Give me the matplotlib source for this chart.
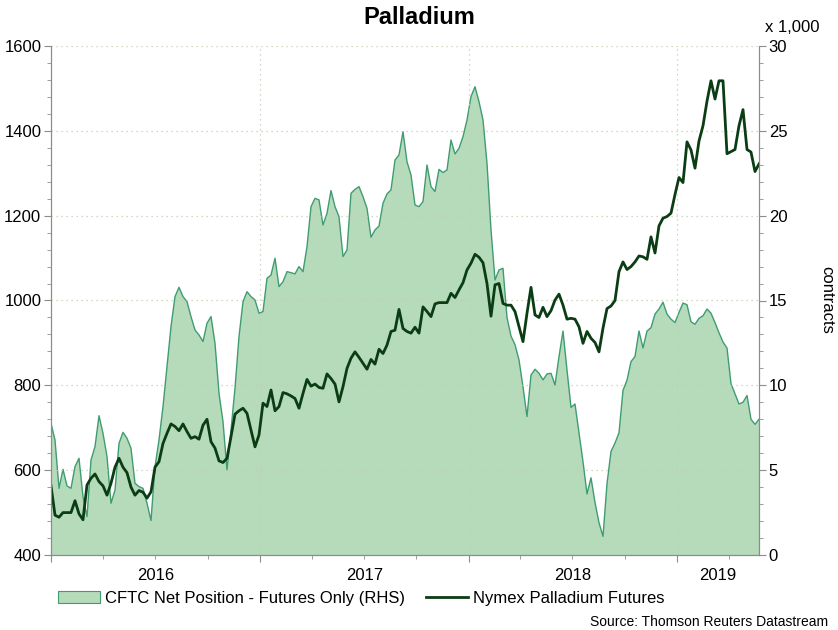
import matplotlib
matplotlib.use("Agg")
import matplotlib.pyplot as plt
import matplotlib.dates as mdates
from matplotlib.patches import Patch
from matplotlib.lines import Line2D
from matplotlib.ticker import MultipleLocator
import pandas as pd

plt.rcParams["font.family"] = ["Liberation Sans", "DejaVu Sans"]

# weekly, starting first Friday of 2016
start_date = "2016-01-01"

# CFTC net position, futures only (thousands of contracts, RHS)
cftc_net = [
    7.76, 6.78, 3.93, 5.05, 4.07, 3.93, 5.21, 5.7, 3.44, 2.26, 5.6, 6.39, 8.21, 7.17, 5.8, 3.05,
    3.83, 6.58, 7.23, 6.88, 6.29, 4.23, 4.03, 3.93, 3.05, 2.03, 5.21, 6.78, 8.75, 11.1, 13.46, 15.23,
    15.78, 15.23, 14.93, 14.05, 13.26, 12.97, 12.58, 13.66, 14.05, 12.48, 9.53, 7.86, 5.01, 7.37, 9.83,
    12.87, 14.93, 15.52, 15.23, 15.03, 14.25, 14.35, 16.31, 16.5, 17.49, 15.82, 16.11, 16.7, 16.64, 16.57,
    17.0, 16.7, 18.17, 20.53, 21.02, 20.93, 19.45, 20.14, 21.48, 20.53, 19.94, 17.59, 17.98, 21.32, 21.55,
    21.71, 21.12, 20.43, 18.73, 19.16, 19.39, 20.73, 21.28, 21.52, 23.28, 23.58, 24.95, 23.18, 22.4, 20.63,
    20.53,
    20.83, 22.99, 21.71, 21.42, 22.73, 22.54, 22.7, 24.46, 23.64, 23.97, 24.66, 25.64, 27.02, 27.6, 26.72,
    25.64, 23.09, 19.16, 16.21, 16.8, 16.9, 14.0, 12.9, 12.4, 11.5, 9.9, 8.16, 10.61, 10.95, 10.71, 10.32,
    10.67, 10.71, 10.02, 11.69, 13.2, 10.9, 8.7, 8.9, 7.2, 5.5, 3.6, 4.55, 3.1, 1.9, 1.1,
    4.2, 6.1, 6.6, 7.2, 9.7, 10.3, 11.4, 11.7, 13.2, 12.2, 13.2, 13.4, 14.2, 14.5, 14.9, 14.2, 13.9,
    13.7, 14.3, 14.85, 14.75, 13.75, 13.6, 13.95, 14.1, 14.5, 14.25, 13.7, 13.1, 12.55, 12.2, 10.1, 9.5,
    8.9, 9.0, 9.4, 8.0, 7.7, 8.0,
]

# Nymex palladium futures price (LHS)
palladium = [
    563, 494, 489, 500, 500, 500, 528, 497, 483, 565, 581, 591, 573, 563, 541, 569, 607, 628, 607, 594,
    560, 541, 552, 548, 534, 549, 607, 620, 663, 687, 709, 703, 693, 709, 691, 675, 679, 673, 706, 720,
    667, 652, 622, 618, 628, 679, 732,
    740, 746, 734, 695, 655, 683, 758, 750, 789, 740, 750, 783, 780, 775, 769, 746, 781, 814, 798, 803,
    795, 793, 827, 816, 803, 761, 797, 840, 864, 879, 866, 852, 838, 861, 850, 885, 875, 895, 927, 930,
    979, 934, 927, 923, 937, 923,
    985, 974, 962, 992, 995, 995, 995, 1017, 1007, 1025, 1042, 1072, 1088, 1109, 1102, 1089, 1040, 963,
    1037, 1040, 993, 989, 989, 974, 938, 903, 970, 1031, 966, 960, 984, 962, 976, 1001, 1015, 989, 956,
    958, 956, 938, 899, 927, 911, 901, 879, 935,
    981, 987, 1000, 1068, 1091, 1073, 1080, 1091, 1105, 1103, 1097, 1150, 1112, 1176, 1194, 1198, 1206,
    1250, 1290, 1278, 1374, 1355, 1312, 1376, 1412, 1470, 1518, 1475, 1518, 1518, 1346, 1351, 1356, 1412,
    1450, 1356, 1350, 1304, 1322,
]

years = [2016, 2017, 2018, 2019]

dates = pd.date_range(start_date, periods=len(palladium), freq="7D")

fill_color = "#b6dbba"
edge_color = "#3f9c72"
line_color = "#0b3d14"
axis_gray = "#8c8c8c"
grid_color = "#c2cfae"

fig = plt.figure(figsize=(8.38, 6.3), dpi=100)
ax = fig.add_axes([51 / 838, 1 - 555 / 630, (759 - 51) / 838, (555 - 46) / 630])
ax2 = ax.twinx()

ax2.fill_between(dates, 0, cftc_net, facecolor=fill_color, edgecolor="none", linewidth=0)
ax2.plot(dates, cftc_net, color=edge_color, linewidth=1.0)
ax.plot(dates, palladium, color=line_color, linewidth=2.0)

ax.set_zorder(ax2.get_zorder() + 1)
ax.patch.set_visible(False)

ax.set_xlim(dates[0], dates[-1])
ax.set_ylim(400, 1600)
ax2.set_ylim(0, 30)

ax.yaxis.set_major_locator(MultipleLocator(200))
ax.yaxis.set_minor_locator(MultipleLocator(40))
ax2.yaxis.set_major_locator(MultipleLocator(5))
ax2.yaxis.set_minor_locator(MultipleLocator(1))

ax.xaxis.set_major_locator(mdates.YearLocator())
ax.xaxis.set_minor_locator(mdates.MonthLocator(bymonth=[4, 7, 10]))
ax.xaxis.set_major_formatter(plt.NullFormatter())

for a in (ax, ax2):
    a.tick_params(which="major", length=5, color=axis_gray, labelsize=12, pad=2)
    a.tick_params(which="minor", length=3, color=axis_gray)
    for s in a.spines.values():
        s.set_color(axis_gray)
    a.spines["top"].set_visible(False)

ax.grid(True, which="major", axis="both", linestyle=(0, (1, 3)), color=grid_color, linewidth=0.9)

# year labels centred in the visible part of each year
x0, x1 = ax.get_xlim()
for yr in years:
    a = max(mdates.date2num(pd.Timestamp(f"{yr}-01-01")), x0)
    b = min(mdates.date2num(pd.Timestamp(f"{yr + 1}-01-01")), x1)
    ax.text((a + b) / 2, -0.04, str(yr), transform=ax.get_xaxis_transform(),
            ha="center", va="center", fontsize=12)

fig.text(0.5, 1 - 17 / 630, "Palladium", ha="center", va="center", fontsize=17, fontweight="bold")
fig.text(765 / 838, 1 - 27 / 630, "x 1,000", ha="left", va="center", fontsize=12)
fig.text(827 / 838, 1 - 300 / 630, "contracts", ha="center", va="center", rotation=270, fontsize=12)
fig.text(828 / 838, 1 - 622 / 630, "Source: Thomson Reuters Datastream", ha="right", va="center", fontsize=10)

handles = [
    Patch(facecolor=fill_color, edgecolor=edge_color, linewidth=0.8),
    Line2D([], [], color=line_color, linewidth=2.0),
]
labels = ["CFTC Net Position - Futures Only (RHS)", "Nymex Palladium Futures"]
fig.legend(handles, labels, loc="center left", bbox_to_anchor=(58 / 838, 1 - 598 / 630), ncol=2,
           frameon=False, fontsize=12, handlelength=2.5, handletextpad=0.3, columnspacing=1.3,
           borderaxespad=0, borderpad=0)

fig.savefig("out.png", dpi=100)
